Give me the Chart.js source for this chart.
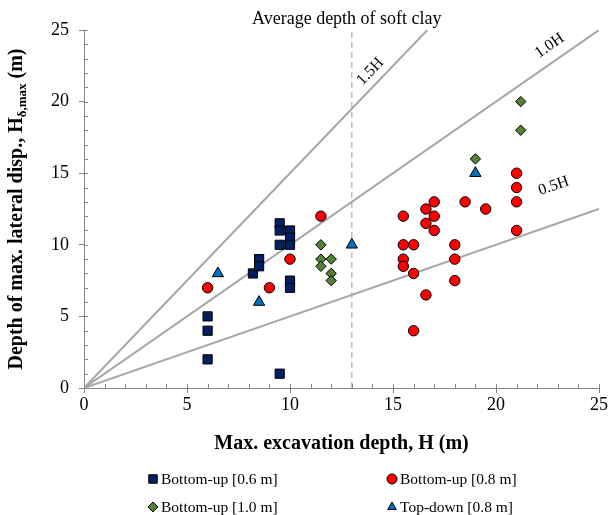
<!DOCTYPE html>
<html>
<head>
<meta charset="utf-8">
<script src="https://cdn.jsdelivr.net/npm/chart.js@4.4.0/dist/chart.umd.min.js"></script>
<style>
  html, body { margin: 0; padding: 0; background: #fff; }
</style>
</head>
<body>
<canvas id="myChart" width="609" height="515"></canvas>
<script>
// data
const seriesNames = ['Bottom-up [0.6 m]', 'Bottom-up [0.8 m]', 'Bottom-up [1.0 m]', 'Top-down [0.8 m]'];

const bu06X = [6, 6, 6, 8.2, 8.5, 8.5, 9.5, 9.5, 9.5, 10, 10, 10, 10, 10, 9.5];
const bu06Y = [2, 4, 5, 8, 9, 8.5, 11.5, 11, 10, 11, 10.5, 10, 7.5, 7, 1];

const bu08X = [6, 9, 10, 11.5, 15.5, 15.5, 16, 15.5, 15.5, 16, 16.6, 16.6, 16.6, 17, 17, 17, 16, 18, 18, 18, 18.5, 19.5, 21, 21, 21, 21];
const bu08Y = [7, 7, 9, 12, 12, 10, 10, 9, 8.5, 8, 6.5, 12.5, 11.5, 13, 12, 11, 4, 10, 9, 7.5, 13, 12.5, 15, 14, 13, 11];

const bu10X = [11.5, 11.5, 12, 11.5, 12, 12, 19, 21.2, 21.2];
const bu10Y = [10, 9, 9, 8.5, 8, 7.5, 16, 20, 18];

const tdX = [6.5, 8.5, 13, 19];
const tdY = [8, 6, 10, 15];

// reference lines Hδ,max = k·H
const ratios = [1.5, 1.0, 0.5];
const ratioLabels = ['1.5H', '1.0H', '0.5H'];
const softClayDepth = 13;
const axisMax = 25;
const tickStep = 5;

const serif = "'Liberation Serif', 'Times New Roman', serif";
const pts = (xs, ys) => xs.map((x, i) => ({ x: x, y: ys[i] }));

function ratioLine(k) {
    const xEnd = Math.min(axisMax, axisMax / k);
    return [{ x: 0, y: 0 }, { x: xEnd, y: k * xEnd }];
}

const markerSets = [
    { data: pts(bu06X, bu06Y), style: 'rect', color: '#002060', r: 6.5 },
    { data: pts(bu08X, bu08Y), style: 'circle', color: '#FF0000', r: 5.2 },
    { data: pts(bu10X, bu10Y), style: 'rectRot', color: '#548235', r: 5.2 },
    { data: pts(tdX, tdY), style: 'triangle', color: '#0070C0', r: 6.5 }
];

const datasets = markerSets.map((m, i) => ({
    label: seriesNames[i],
    data: m.data,
    pointStyle: m.style,
    pointRadius: m.r,
    pointHoverRadius: m.r,
    backgroundColor: m.color,
    borderColor: '#000000',
    borderWidth: 1,
    order: 0
}));

ratios.forEach((k, i) => {
    datasets.push({
        label: ratioLabels[i],
        data: ratioLine(k),
        showLine: true,
        pointRadius: 0,
        borderColor: '#A6A6A6',
        borderWidth: 2,
        order: 5
    });
});

datasets.push({
    label: 'soft clay',
    data: [{ x: softClayDepth, y: 0 }, { x: softClayDepth, y: axisMax }],
    showLine: true,
    pointRadius: 0,
    borderColor: '#BFBFBF',
    borderWidth: 1.5,
    borderDash: [6, 4],
    order: 6
});

// titles, inside ticks, line labels and the 2x2 legend
const decor = {
    id: 'decor',
    afterDraw(chart) {
        const ctx = chart.ctx;
        const xs = chart.scales.x, ys = chart.scales.y;
        const area = chart.chartArea;

        // ticks on the inside of the axes (minor ones every 1 m)
        ctx.save();
        ctx.strokeStyle = '#868686';
        ctx.lineWidth = 1;
        for (let v = 1; v <= axisMax; v++) {
            const len = 4;
            const px = Math.round(xs.getPixelForValue(v)) + 0.5;
            const py = Math.round(ys.getPixelForValue(v)) + 0.5;
            ctx.beginPath();
            ctx.moveTo(px, area.bottom);
            ctx.lineTo(px, area.bottom - len);
            ctx.moveTo(area.left, py);
            ctx.lineTo(area.left + len, py);
            ctx.stroke();
        }
        ctx.restore();

        // labels along the ratio lines
        const labelPos = [[13.9, 22.1], [22.6, 23.9], [22.8, 14.1]];
        ctx.save();
        ctx.fillStyle = '#000';
        ctx.font = '16px ' + serif;
        ctx.textAlign = 'center';
        ctx.textBaseline = 'middle';
        ratios.forEach((k, i) => {
            const x0 = xs.getPixelForValue(0), y0 = ys.getPixelForValue(0);
            const x1 = xs.getPixelForValue(10), y1 = ys.getPixelForValue(10 * k);
            const ang = Math.atan2(y1 - y0, x1 - x0);
            ctx.save();
            ctx.translate(xs.getPixelForValue(labelPos[i][0]), ys.getPixelForValue(labelPos[i][1]));
            ctx.rotate(ang);
            ctx.fillText(ratioLabels[i], 0, 0);
            ctx.restore();
        });

        // soft clay note
        ctx.font = '18px ' + serif;
        ctx.fillText('Average depth of soft clay', xs.getPixelForValue(softClayDepth) - 5, 19);

        // x title
        ctx.font = 'bold 20px ' + serif;
        ctx.fillText('Max. excavation depth, H (m)', (area.left + area.right) / 2, 444);

        // y title with subscript
        const main = 'Depth of max. lateral disp., H';
        const sub = 'δ,max';
        const tail = ' (m)';
        ctx.font = 'bold 20px ' + serif;
        const wMain = ctx.measureText(main).width;
        const wTail = ctx.measureText(tail).width;
        ctx.font = 'bold 13px ' + serif;
        const wSub = ctx.measureText(sub).width;
        const total = wMain + wSub + wTail;
        ctx.translate(15, (area.top + area.bottom) / 2);
        ctx.rotate(-Math.PI / 2);
        ctx.textAlign = 'left';
        ctx.textBaseline = 'alphabetic';
        let cx = -total / 2;
        ctx.font = 'bold 20px ' + serif;
        ctx.fillText(main, cx, 7);
        cx += wMain;
        ctx.font = 'bold 13px ' + serif;
        ctx.fillText(sub, cx, 11);
        cx += wSub;
        ctx.font = 'bold 20px ' + serif;
        ctx.fillText(tail, cx, 7);
        ctx.restore();

        // legend
        const cols = [153, 392], rows = [479, 507];
        ctx.save();
        ctx.font = '15.5px ' + serif;
        ctx.textBaseline = 'middle';
        ctx.textAlign = 'left';
        markerSets.forEach((m, i) => {
            const lx = cols[i % 2], ly = rows[Math.floor(i / 2)];
            ctx.fillStyle = m.color;
            ctx.strokeStyle = '#000';
            ctx.lineWidth = 1;
            Chart.helpers.drawPoint(ctx, {
                pointStyle: m.style,
                radius: m.style === 'rect' ? 6 : 5,
                rotation: 0,
                borderWidth: 1
            }, lx, ly);
            ctx.fillStyle = '#000';
            ctx.fillText(seriesNames[i], lx + 8, ly + 1);
        });
        ctx.restore();
    }
};

const ctx = document.getElementById('myChart').getContext('2d');
const chart = new Chart(ctx, {
    type: 'scatter',
    data: { datasets: datasets },
    options: {
        responsive: false,
        animation: false,
        devicePixelRatio: 1,
        layout: { padding: { left: 0, right: 10, top: 30, bottom: 87 } },
        plugins: {
            legend: { display: false },
            tooltip: { enabled: false }
        },
        scales: {
            x: {
                type: 'linear',
                min: 0,
                max: axisMax,
                afterFit: (scale) => {
                    scale.height = 40;
                    scale.paddingLeft = 0;
                    scale.paddingRight = 0;
                },
                ticks: {
                    stepSize: tickStep,
                    color: '#000',
                    padding: 1,
                    font: { family: serif, size: 18 }
                },
                grid: {
                    drawOnChartArea: false,
                    drawTicks: true,
                    tickLength: 5,
                    color: '#868686'
                },
                border: { display: true, color: '#868686', width: 1 }
            },
            y: {
                type: 'linear',
                min: 0,
                max: axisMax,
                afterFit: (scale) => {
                    scale.width = 84;
                    scale.paddingTop = 0;
                    scale.paddingBottom = 0;
                },
                ticks: {
                    stepSize: tickStep,
                    color: '#000',
                    padding: 10,
                    font: { family: serif, size: 18 }
                },
                grid: {
                    drawOnChartArea: false,
                    drawTicks: true,
                    tickLength: 5,
                    color: '#868686'
                },
                border: { display: true, color: '#868686', width: 1 }
            }
        }
    },
    plugins: [decor]
});
</script>
</body>
</html>
